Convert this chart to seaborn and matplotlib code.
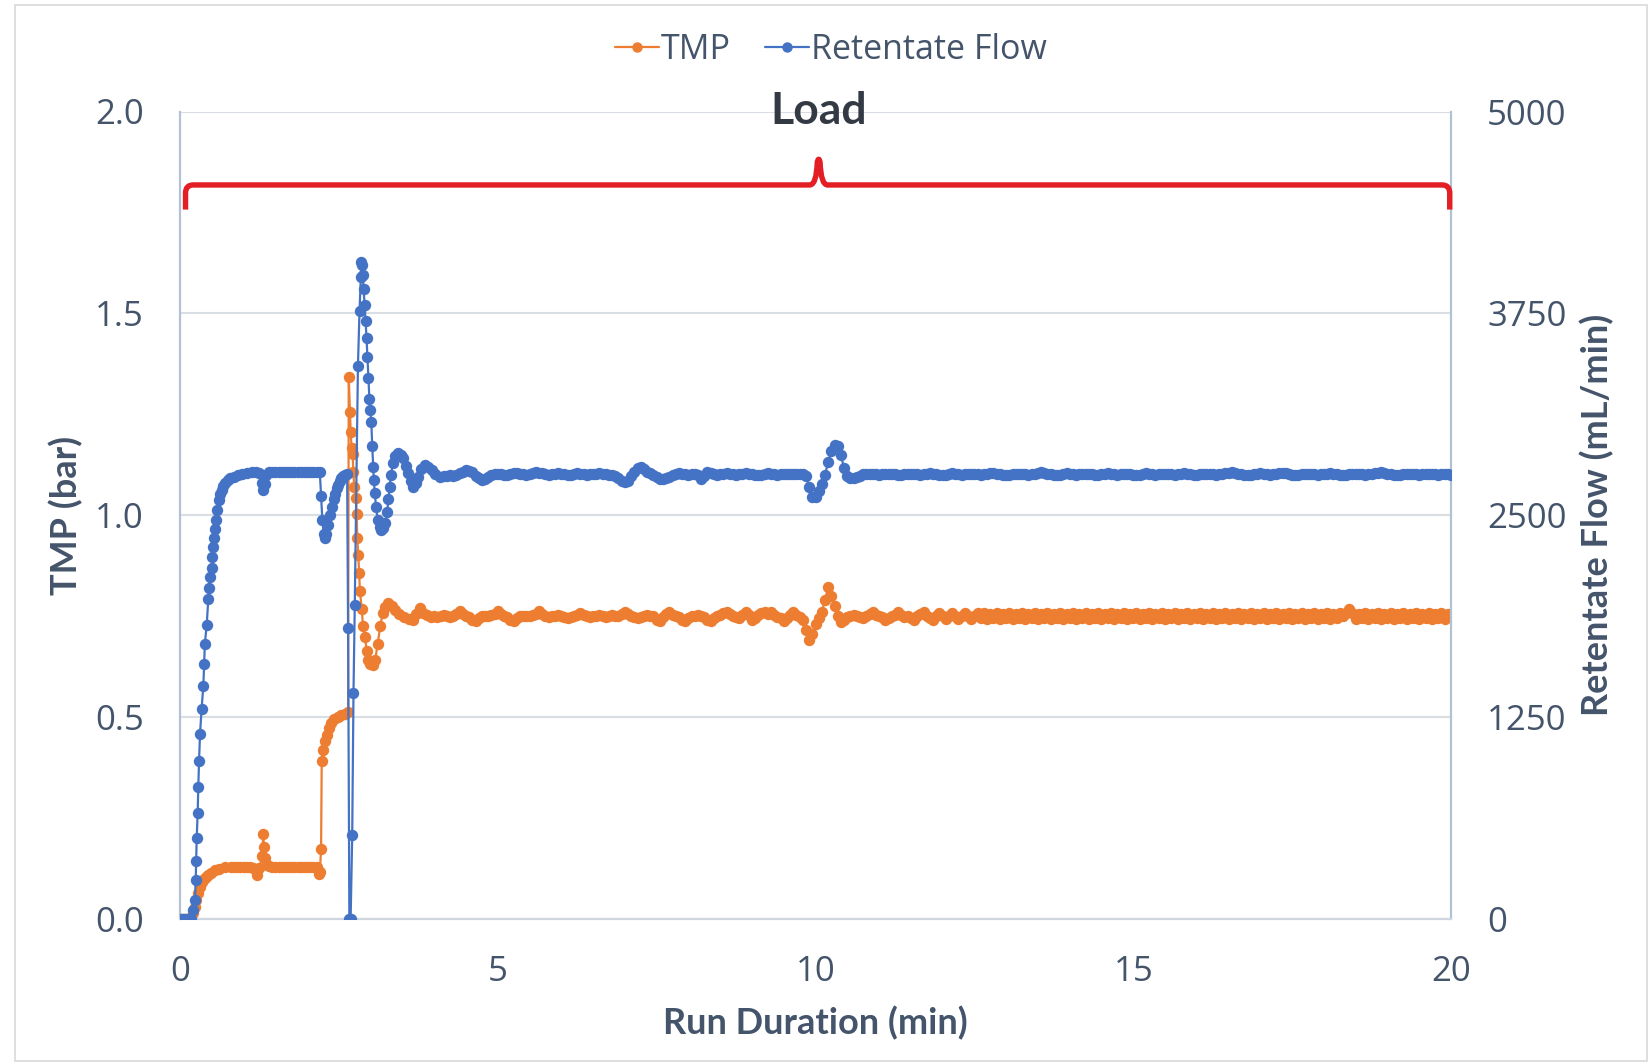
import numpy as np
import pandas as pd
import matplotlib
matplotlib.use("Agg")
import matplotlib.pyplot as plt
import seaborn as sns
from matplotlib.lines import Line2D
from matplotlib.path import Path
from matplotlib.patches import PathPatch, Rectangle

sns.set_theme(style="white")
plt.rcParams['font.family'] = ['Open Sans', 'DejaVu Sans']

# ---------------- data ----------------
series_names = ["TMP", "Retentate Flow"]
x_ticks = [0, 5, 10, 15, 20]
tmp_ticks = [0.0, 0.5, 1.0, 1.5, 2.0]
flow_ticks = [0, 1250, 2500, 3750, 5000]

# start-up transient: (minute, TMP bar)
tmp_transient = [
    (0.00, 0.0), (0.03, 0.0), (0.06, 0.0), (0.09, 0.0), (0.12, 0.0), (0.15, 0.0), (0.18, 0.0),
    (0.21, 0.013), (0.23, 0.030), (0.25, 0.046), (0.28, 0.063), (0.31, 0.079), (0.34, 0.090),
    (0.37, 0.098), (0.41, 0.104), (0.445, 0.108), (0.49, 0.114), (0.55, 0.120), (0.62, 0.124),
    (0.71, 0.127), (0.80, 0.128), (0.85, 0.128), (0.90, 0.128), (0.95, 0.128), (1.00, 0.128),
    (1.05, 0.128), (1.10, 0.128), (1.15, 0.126), (1.21, 0.108), (1.25, 0.125), (1.29, 0.155),
    (1.31, 0.209), (1.32, 0.178), (1.34, 0.150), (1.37, 0.133), (1.40, 0.130), (1.45, 0.128),
    (1.50, 0.128), (1.55, 0.128), (1.60, 0.128), (1.65, 0.128), (1.70, 0.128), (1.75, 0.128),
    (1.80, 0.128), (1.85, 0.128), (1.90, 0.128), (1.95, 0.128), (2.00, 0.128), (2.05, 0.128),
    (2.10, 0.128), (2.15, 0.128), (2.18, 0.110), (2.20, 0.115), (2.22, 0.172), (2.23, 0.390),
    (2.25, 0.418), (2.28, 0.440), (2.31, 0.456), (2.34, 0.473), (2.37, 0.484), (2.42, 0.495),
    (2.48, 0.500), (2.54, 0.505), (2.60, 0.508), (2.645, 0.511), (2.655, 1.342), (2.675, 1.255),
    (2.686, 1.206), (2.70, 1.167), (2.717, 1.151), (2.727, 1.107), (2.742, 1.069), (2.77, 1.042),
    (2.78, 1.003), (2.79, 0.943), (2.805, 0.900), (2.82, 0.856), (2.83, 0.812), (2.86, 0.768),
    (2.88, 0.724), (2.91, 0.697), (2.94, 0.664), (2.96, 0.642), (2.99, 0.630), (3.03, 0.628),
    (3.07, 0.640), (3.11, 0.680), (3.15, 0.724), (3.19, 0.757), (3.23, 0.772), (3.28, 0.781),
    (3.33, 0.775), (3.39, 0.765), (3.45, 0.755), (3.52, 0.748), (3.60, 0.742), (3.66, 0.740),
    (3.72, 0.755), (3.77, 0.769), (3.82, 0.758), (3.88, 0.752), (3.95, 0.748), (4.00, 0.750),
    (4.05, 0.748), (4.10, 0.750), (4.15, 0.752), (4.20, 0.750), (4.25, 0.748), (4.30, 0.750),
    (4.35, 0.755), (4.40, 0.762), (4.45, 0.755),
]

# start-up transient: (minute, retentate flow mL/min)
flow_transient = [
    (0.00, 0), (0.03, 0), (0.06, 0), (0.09, 0), (0.12, 0), (0.15, 0), (0.18, 0),
    (0.21, 54), (0.236, 116), (0.247, 240), (0.255, 360), (0.263, 500), (0.278, 657),
    (0.288, 818), (0.30, 979), (0.315, 1144), (0.34, 1300), (0.367, 1441), (0.38, 1576),
    (0.39, 1700), (0.42, 1817), (0.445, 1978), (0.46, 2047), (0.47, 2118), (0.50, 2170),
    (0.51, 2242), (0.52, 2304), (0.54, 2356), (0.55, 2412), (0.566, 2470), (0.59, 2532),
    (0.615, 2593), (0.635, 2630), (0.656, 2655), (0.68, 2680), (0.71, 2697), (0.75, 2715),
    (0.79, 2728), (0.85, 2738), (0.92, 2748), (0.98, 2752), (1.05, 2758), (1.13, 2765),
    (1.20, 2765), (1.25, 2762), (1.29, 2700), (1.31, 2655), (1.33, 2690), (1.36, 2750),
    (1.40, 2768), (1.45, 2770), (1.50, 2770), (1.55, 2768), (1.60, 2768), (1.65, 2770),
    (1.70, 2768), (1.75, 2768), (1.80, 2766), (1.85, 2768), (1.90, 2768), (1.95, 2768),
    (2.00, 2766), (2.05, 2768), (2.10, 2768), (2.15, 2770), (2.20, 2768), (2.22, 2620),
    (2.24, 2470), (2.26, 2385), (2.28, 2357), (2.30, 2380), (2.33, 2440), (2.36, 2500),
    (2.39, 2550), (2.42, 2600), (2.44, 2631), (2.47, 2665), (2.49, 2686), (2.52, 2710),
    (2.54, 2727), (2.57, 2740), (2.60, 2749), (2.63, 2755), (2.645, 1800), (2.665, 0),
    (2.685, 0), (2.71, 520), (2.73, 1400), (2.75, 1942), (2.80, 3424), (2.825, 3766),
    (2.845, 3972), (2.855, 4067), (2.865, 4050), (2.875, 3990), (2.89, 3900), (2.905, 3800),
    (2.92, 3700), (2.935, 3600), (2.95, 3480), (2.965, 3350), (2.98, 3220), (2.995, 3150),
    (3.01, 3078), (3.025, 2928), (3.04, 2800), (3.05, 2717), (3.065, 2635), (3.085, 2552),
    (3.11, 2470), (3.14, 2425), (3.17, 2408), (3.20, 2420), (3.23, 2450), (3.26, 2520),
    (3.28, 2600), (3.30, 2676), (3.32, 2750), (3.35, 2821), (3.39, 2865), (3.43, 2883),
    (3.47, 2875), (3.51, 2852), (3.55, 2805), (3.59, 2759), (3.63, 2710), (3.67, 2676),
    (3.71, 2700), (3.75, 2738), (3.80, 2785), (3.85, 2810), (3.90, 2800), (3.96, 2779),
    (4.02, 2755), (4.09, 2738), (4.15, 2740), (4.20, 2745), (4.25, 2748), (4.30, 2745),
    (4.35, 2750), (4.40, 2760), (4.45, 2770),
]

# steady operation, logged every 0.05 min from 4.50 min (one row = one minute)
steady_start_min = 4.5
steady_step_min = 0.05

tmp_steady_rows = [
    [.750, .748, .740, .737, .745, .750, .750, .750, .752, .755, .762, .755, .750, .748, .740, .737, .745, .750, .750, .750],
    [.750, .752, .755, .762, .755, .750, .748, .750, .750, .752, .750, .748, .745, .748, .750, .752, .758, .752, .750, .748],
    [.750, .750, .752, .750, .748, .750, .752, .750, .750, .755, .760, .755, .750, .748, .745, .748, .750, .752, .750, .750],
    [.740, .737, .748, .755, .760, .752, .750, .748, .740, .737, .745, .750, .750, .752, .750, .748, .740, .737, .745, .750],
    [.752, .758, .760, .755, .750, .748, .745, .752, .760, .752, .740, .745, .752, .758, .760, .755, .760, .752, .748, .745],
    [.738, .745, .752, .760, .752, .748, .740, .715, .690, .705, .730, .745, .760, .790, .822, .800, .775, .750, .735, .740],
    [.748, .750, .752, .750, .748, .745, .750, .755, .760, .752, .750, .748, .740, .745, .750, .752, .760, .752, .748, .750],
    [.745, .740, .750, .755, .760, .750, .745, .740, .750, .758, .750, .742, .750, .758, .750, .742, .750, .758, .750, .742],
    [.750, .758, .745, .757, .743, .756, .744, .757, .743, .756, .744, .758, .743, .756, .744, .757, .743, .756, .744, .757],
    [.743, .756, .744, .757, .743, .756, .744, .757, .743, .756, .744, .757, .743, .756, .744, .757, .743, .756, .744, .757],
    [.743, .756, .744, .757, .743, .756, .744, .757, .743, .756, .744, .757, .743, .756, .744, .757, .743, .756, .744, .757],
    [.743, .756, .744, .757, .743, .756, .744, .757, .743, .756, .744, .757, .743, .756, .744, .757, .743, .756, .744, .757],
    [.743, .756, .744, .757, .743, .756, .744, .757, .743, .756, .744, .757, .743, .756, .744, .757, .743, .756, .744, .757],
    [.743, .756, .744, .757, .743, .756, .744, .757, .743, .756, .744, .757, .743, .756, .744, .757, .750, .758, .768, .757],
    [.743, .756, .744, .757, .743, .756, .744, .757, .743, .756, .744, .757, .743, .756, .744, .757, .743, .756, .744, .757],
    [.743, .756, .744, .757, .743, .756, .744, .757, .743, .756, .750],
]

flow_steady_rows = [
    [2779, 2775, 2765, 2745, 2728, 2720, 2725, 2738, 2748, 2752, 2755, 2752, 2750, 2748, 2752, 2758, 2760, 2756, 2752, 2750],
    [2755, 2760, 2765, 2762, 2758, 2752, 2750, 2752, 2756, 2758, 2755, 2752, 2750, 2750, 2755, 2758, 2756, 2752, 2750, 2752],
    [2755, 2756, 2758, 2755, 2752, 2750, 2748, 2745, 2730, 2712, 2705, 2712, 2740, 2770, 2790, 2795, 2785, 2770, 2758, 2750],
    [2735, 2725, 2722, 2728, 2738, 2748, 2755, 2758, 2756, 2752, 2750, 2752, 2755, 2748, 2725, 2745, 2768, 2760, 2752, 2750],
    [2752, 2755, 2758, 2756, 2752, 2750, 2752, 2756, 2758, 2755, 2752, 2750, 2748, 2750, 2755, 2758, 2756, 2752, 2750, 2752],
    [2755, 2756, 2755, 2752, 2755, 2756, 2755, 2745, 2676, 2612, 2615, 2650, 2690, 2750, 2830, 2895, 2932, 2925, 2870, 2790],
    [2745, 2730, 2728, 2735, 2745, 2752, 2755, 2756, 2755, 2752, 2750, 2752, 2755, 2756, 2755, 2752, 2750, 2750, 2752, 2755],
    [2756, 2755, 2752, 2750, 2752, 2756, 2758, 2755, 2752, 2750, 2748, 2750, 2755, 2758, 2756, 2752, 2750, 2752, 2755, 2756],
    [2755, 2752, 2750, 2752, 2755, 2758, 2760, 2756, 2752, 2750, 2748, 2750, 2752, 2755, 2756, 2755, 2752, 2750, 2752, 2755],
    [2760, 2765, 2762, 2756, 2752, 2750, 2748, 2750, 2755, 2758, 2756, 2752, 2750, 2752, 2755, 2756, 2755, 2752, 2748, 2750],
    [2752, 2755, 2758, 2756, 2752, 2750, 2752, 2755, 2756, 2752, 2750, 2748, 2750, 2755, 2758, 2756, 2752, 2750, 2752, 2755],
    [2756, 2755, 2752, 2750, 2752, 2756, 2758, 2755, 2752, 2748, 2750, 2752, 2755, 2756, 2755, 2752, 2750, 2752, 2755, 2758],
    [2762, 2765, 2760, 2755, 2752, 2750, 2748, 2750, 2752, 2755, 2758, 2756, 2752, 2750, 2752, 2755, 2758, 2762, 2758, 2752],
    [2750, 2748, 2750, 2752, 2755, 2756, 2755, 2752, 2750, 2752, 2755, 2756, 2758, 2755, 2752, 2750, 2748, 2750, 2752, 2755],
    [2756, 2755, 2752, 2750, 2752, 2755, 2758, 2762, 2765, 2760, 2755, 2752, 2750, 2748, 2750, 2752, 2755, 2756, 2755, 2752],
    [2750, 2752, 2755, 2756, 2755, 2752, 2750, 2752, 2755, 2752, 2750],
]

bracket_label = "Load"

# ---------------- build tables ----------------
def build(transient, rows, name):
    t = [p[0] for p in transient]
    v = [p[1] for p in transient]
    flat = [x for r in rows for x in r]
    t += [steady_start_min + steady_step_min * i for i in range(len(flat))]
    v += flat
    return pd.DataFrame({"t": t, name: v})

tmp_df = build(tmp_transient, tmp_steady_rows, "tmp")
flow_df = build(flow_transient, flow_steady_rows, "flow")

ORANGE = "#ED7D31"
BLUE = "#4472C4"
TXT = "#44546A"
W, H = 1650, 1064

fig = plt.figure(figsize=(W / 100, H / 100), dpi=100)
fig.patch.set_facecolor("white")
ax = fig.add_axes([180 / W, 1 - 918.7 / H, 1271 / W, 807.2 / H])
ax2 = ax.twinx()

sns.lineplot(data=tmp_df, x="t", y="tmp", ax=ax, color=ORANGE, marker="o",
             markersize=8.2, markeredgewidth=0, linewidth=1.6, estimator=None, sort=False)
sns.lineplot(data=flow_df, x="t", y="flow", ax=ax2, color=BLUE, marker="o",
             markersize=8.2, markeredgewidth=0, linewidth=1.6, estimator=None, sort=False)

ax.set_xlim(0, 20)
ax.set_ylim(0, 2)
ax2.set_ylim(0, 5000)
ax.set_xticks(x_ticks)
ax.set_xticklabels([str(v) for v in x_ticks])
ax.set_yticks(tmp_ticks)
ax.set_yticklabels([f"{v:.1f}" for v in tmp_ticks])
ax2.set_yticks(flow_ticks)
ax2.set_yticklabels([str(v) for v in flow_ticks])

ax.yaxis.grid(True, color="#D9DDE4", linewidth=1.5)
ax.xaxis.grid(False)
ax.set_axisbelow(True)

ax.spines["top"].set_visible(False)
ax.spines["left"].set_color("#B4C1D4")
ax.spines["left"].set_linewidth(1.6)
ax.spines["right"].set_color("#B4C1D4")
ax.spines["right"].set_linewidth(1.6)
ax.spines["bottom"].set_color("#D0D6DF")
ax.spines["bottom"].set_linewidth(1.6)
for s in ax2.spines.values():
    s.set_visible(False)

ax.tick_params(axis="both", length=0, labelsize=25, labelcolor=TXT)
ax.tick_params(axis="y", pad=26)
ax.tick_params(axis="x", pad=26)
ax2.tick_params(axis="y", length=0, labelsize=25, labelcolor=TXT, pad=26)

title_font = dict(fontsize=26, fontweight="bold", color=TXT, family=["Lato", "DejaVu Sans"])
ax.set_xlabel("Run Duration (min)", **title_font)
ax.xaxis.set_label_coords(0.5, (918.7 - 1023) / 807.2)
ax.xaxis.label.set_va("center")
ax.set_ylabel("TMP (bar)", **title_font)
ax.yaxis.set_label_coords((66 - 180) / 1271, 0.5)
ax.yaxis.label.set_va("center")
ax2.set_ylabel("Retentate Flow (mL/min)", rotation=90, **title_font)
ax2.yaxis.set_label_coords((1597 - 180) / 1271, 0.5)
ax2.yaxis.label.set_va("center")

# bracket "Load"
yb, yend, ytop = 1.818, 1.757, 1.884
xl, xr, xc = 0.087, 19.98, 10.05
verts = [
    (xl, yend), (xl, yb - 0.02), (xl, yb), (xl + 0.12, yb),
    (xc - 0.14, yb), (xc - 0.035, yb), (xc - 0.022, ytop - 0.01),
    (xc, ytop + 0.006), (xc + 0.022, ytop - 0.01),
    (xc + 0.035, yb), (xc + 0.14, yb),
    (xr - 0.12, yb), (xr, yb), (xr, yb - 0.02), (xr, yend),
]
codes = [Path.MOVETO, Path.LINETO, Path.CURVE3, Path.CURVE3,
         Path.LINETO, Path.CURVE3, Path.CURVE3,
         Path.CURVE3, Path.CURVE3,
         Path.CURVE3, Path.CURVE3,
         Path.LINETO, Path.CURVE3, Path.CURVE3, Path.LINETO]
ax.add_patch(PathPatch(Path(verts, codes), fill=False, edgecolor="#E31E24",
                       linewidth=3.9, capstyle="butt", joinstyle="round",
                       clip_on=False, zorder=5))
ax.text(xc, 2.0, bracket_label, ha="center", va="center", fontsize=32,
        fontweight="bold", color="#333A44", family=["Lato", "DejaVu Sans"],
        zorder=6, clip_on=False)

# legend
handles = [
    Line2D([0], [0], color=ORANGE, lw=1.6, marker="o", markersize=7.5, markeredgewidth=0),
    Line2D([0], [0], color=BLUE, lw=1.6, marker="o", markersize=7.5, markeredgewidth=0),
]
leg = fig.legend(handles, series_names, loc="center", bbox_to_anchor=(831 / W, 1 - 50 / H),
                 ncol=2, frameon=False, fontsize=24.5, handlelength=1.3,
                 handletextpad=0.05, columnspacing=1.0)
for t in leg.get_texts():
    t.set_color(TXT)

# outer chart border
fig.add_artist(Rectangle((15 / W, 3 / H), (1647 - 15) / W, (1058.7 - 3) / H,
                         transform=fig.transFigure, fill=False, edgecolor="#D9D9D9", linewidth=1.2))

fig.savefig("out.png", dpi=100)
